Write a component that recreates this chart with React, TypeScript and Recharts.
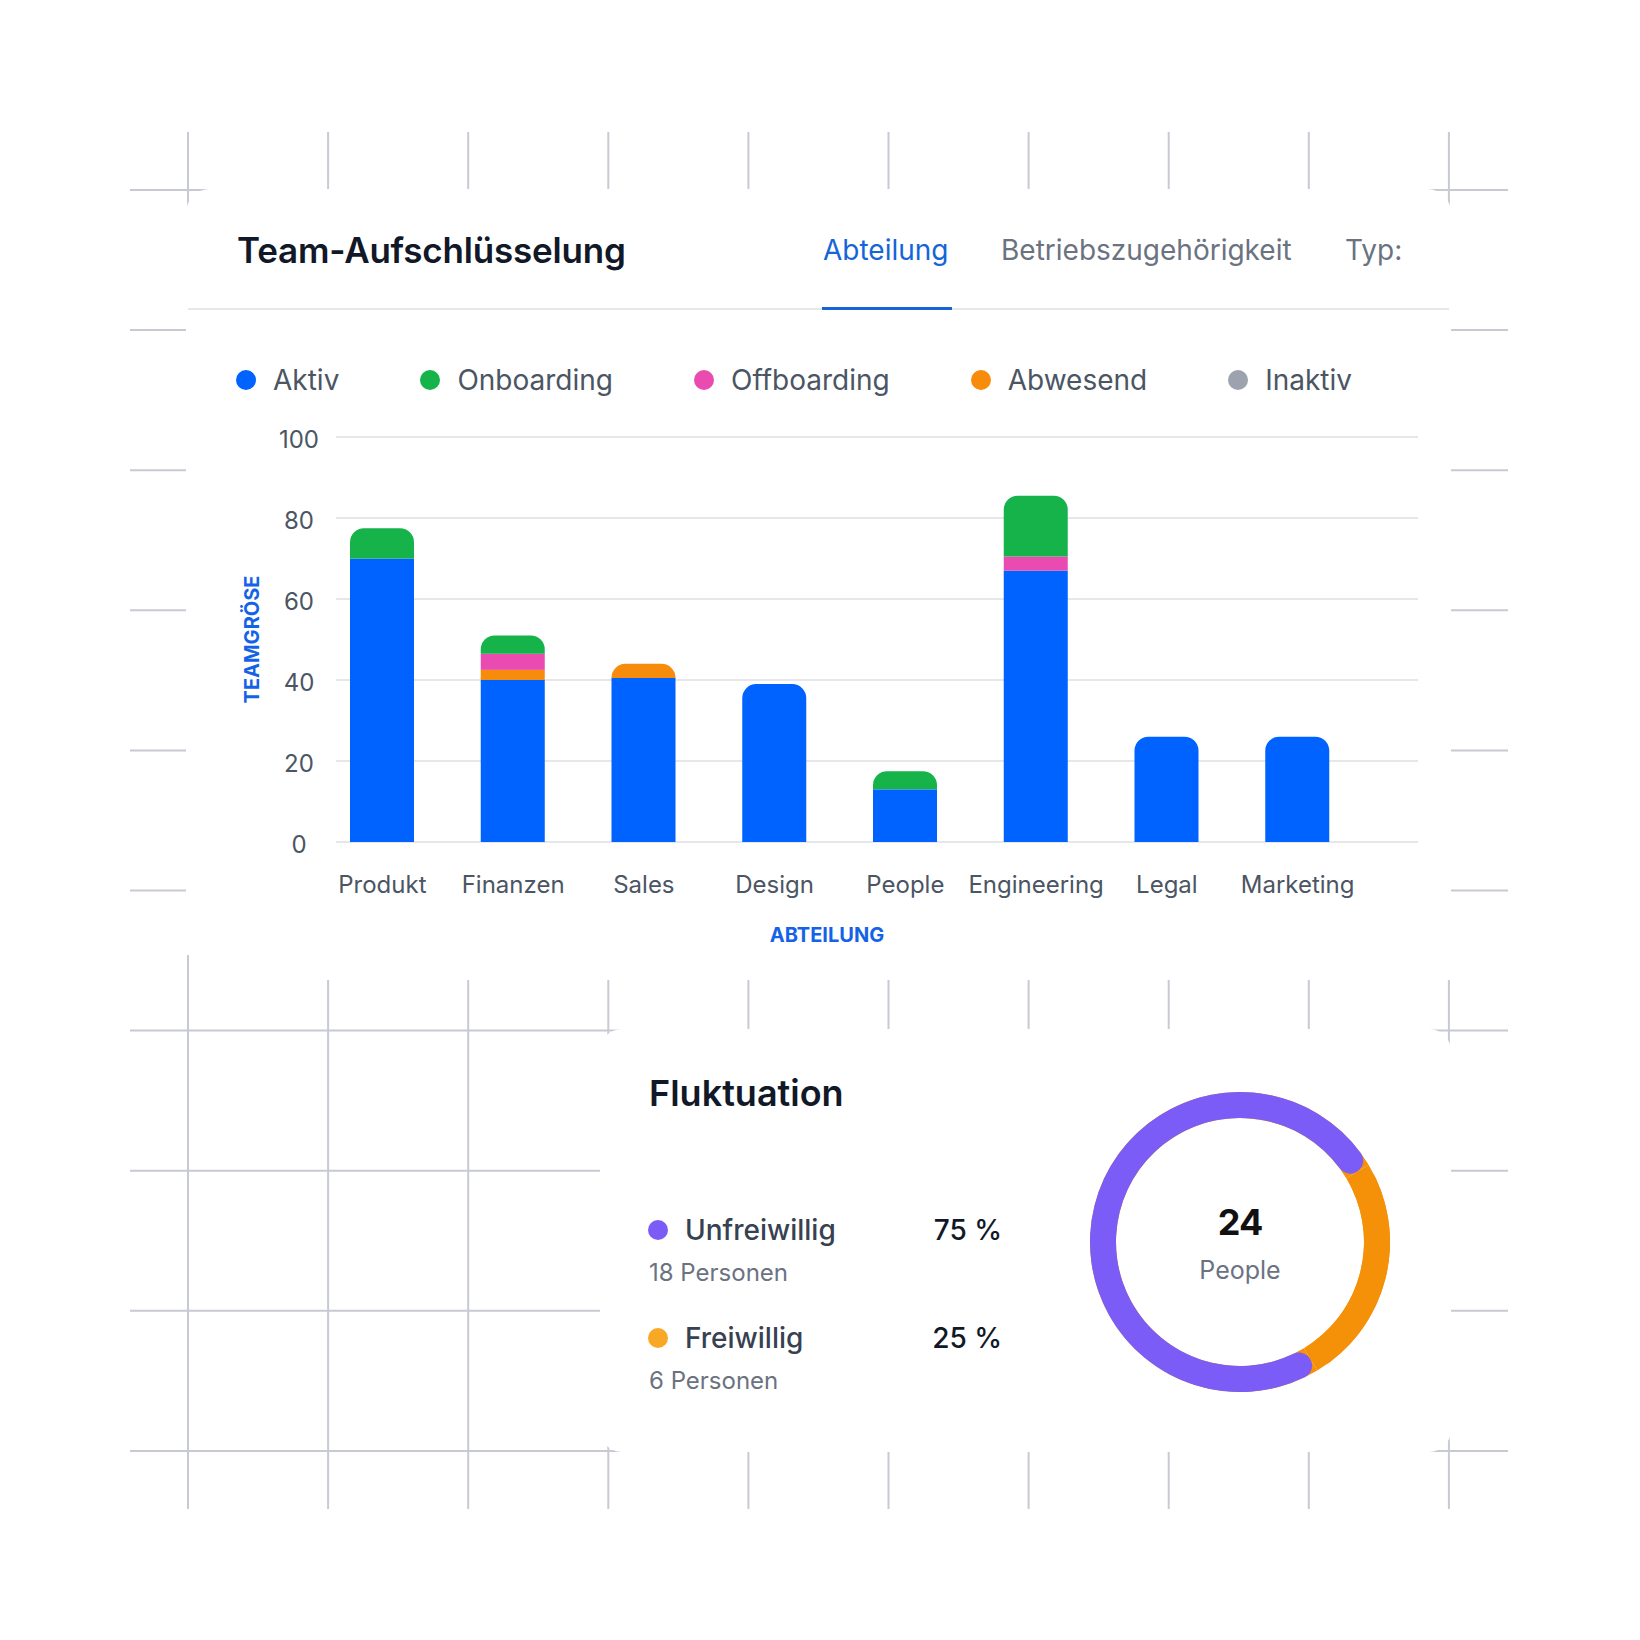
import { Bar, BarChart, CartesianGrid, Cell, Pie, PieChart, XAxis, YAxis } from 'recharts'

// Team-Aufschlüsselung
const departments = ['Produkt', 'Finanzen', 'Sales', 'Design', 'People', 'Engineering', 'Legal', 'Marketing']
const aktiv = [70, 40, 40.5, 39, 13, 67, 26, 26]
const abwesend = [0, 2.5, 3.5, 0, 0, 0, 0, 0]
const offboarding = [0, 4, 0, 0, 0, 3.5, 0, 0]
const onboarding = [7.5, 4.5, 0, 0, 4.5, 15, 0, 0]
const inaktiv = [0, 0, 0, 0, 0, 0, 0, 0]
const yTicks = [0, 20, 40, 60, 80, 100]
const tabs = ['Abteilung', 'Betriebszugehörigkeit', 'Typ:']

// Fluktuation
const turnoverLabels = ['Unfreiwillig', 'Freiwillig']
const turnoverPeople = [18, 6]

const statusNames: Record<string, string> = {
  aktiv: 'Aktiv',
  onboarding: 'Onboarding',
  offboarding: 'Offboarding',
  abwesend: 'Abwesend',
  inaktiv: 'Inaktiv',
}
const statusColors: Record<string, string> = {
  aktiv: '#0062ff',
  onboarding: '#16b34b',
  offboarding: '#ea4bb0',
  abwesend: '#f68b0c',
  inaktiv: '#9ca3af',
}
// bottom -> top in the stack
const stackOrder = ['aktiv', 'abwesend', 'offboarding', 'onboarding', 'inaktiv']
const legendOrder = ['aktiv', 'onboarding', 'offboarding', 'abwesend', 'inaktiv']

const ringColors = ['#7b5cf6', '#f59009']
const dotColors = ['#7b5cf6', '#f9a826']

const rows = departments.map((name, i) => ({
  name,
  aktiv: aktiv[i],
  abwesend: abwesend[i],
  offboarding: offboarding[i],
  onboarding: onboarding[i],
  inaktiv: inaktiv[i],
}))

const turnover = turnoverLabels.map((name, i) => ({ name, value: turnoverPeople[i] }))
const turnoverTotal = turnoverPeople.reduce((a, b) => a + b, 0)

const GRID = '#c8cad3'
const TEXT = '#4b5563'
const MUTED = '#6b7280'
const ACCENT = '#1463e6'

function topKey(row: any) {
  let top = ''
  for (const k of stackOrder) if (row[k] > 0) top = k
  return top
}

// only the top segment of each stack gets rounded corners
const roundedTop = (key: string) => (props: any) => {
  const { x, y, width, height, fill, payload } = props
  if (!height || height <= 0) return <g />
  if (topKey(payload) !== key) return <rect x={x} y={y} width={width} height={height} fill={fill} />
  const r = Math.min(14, height, width / 2)
  const d = `M${x},${y + height}V${y + r}A${r},${r} 0 0 1 ${x + r},${y}H${x + width - r}A${r},${r} 0 0 1 ${x + width},${y + r}V${y + height}Z`
  return <path d={d} fill={fill} />
}

function BackgroundGrid() {
  const xs = Array.from({ length: 10 }, (_, i) => 188 + 140.1 * i)
  const ys = Array.from({ length: 10 }, (_, i) => 190 + 140.1 * i)
  return (
    <svg width={1640} height={1640} style={{ position: 'absolute', left: 0, top: 0 }}>
      {xs.map((x) => <line key={'v' + x} x1={x} x2={x} y1={132} y2={1509} stroke={GRID} strokeWidth={2} />)}
      {ys.map((y) => <line key={'h' + y} x1={130} x2={1508} y1={y} y2={y} stroke={GRID} strokeWidth={2} />)}
      <rect x={186} y={189} width={1265} height={766} rx={24} fill="#fff" />
      <rect x={186} y={920} width={1265} height={35} fill="#fff" />
      <rect x={200} y={950} width={1262} height={30} fill="#fff" />
      <rect x={600} y={1029} width={851} height={423} rx={22} fill="#fff" />
    </svg>
  )
}

const abs = (left: number, top: number, extra: any = {}) => ({ position: 'absolute' as const, left, top, whiteSpace: 'nowrap' as const, ...extra })

function TeamCard() {
  const tabLefts = [823, 1001, 1345]
  return (
    <>
      <div style={abs(237, 233, { fontSize: 35, lineHeight: '35px', fontWeight: 600, color: '#111827', letterSpacing: -0.2 })}>
        Team-Aufschlüsselung
      </div>
      {tabs.map((t, i) => (
        <div key={t} style={abs(tabLefts[i], 236, { fontSize: 28, lineHeight: '28px', color: i === 0 ? '#1565d8' : MUTED })}>{t}</div>
      ))}
      <div style={abs(188, 308, { width: 1261, height: 2, background: '#e5e7eb' })} />
      <div style={abs(822, 307, { width: 130, height: 3, background: '#1565d8' })} />

      <div style={abs(236, 366, { display: 'flex', alignItems: 'center', gap: 81, height: 28 })}>
        {legendOrder.map((k) => (
          <div key={k} style={{ display: 'flex', alignItems: 'center' }}>
            <span style={{ width: 20, height: 20, borderRadius: 10, background: statusColors[k], marginRight: 17 }} />
            <span style={{ fontSize: 28, lineHeight: '28px', color: TEXT }}>{statusNames[k]}</span>
          </div>
        ))}
      </div>

      <div style={abs(188, 400)}>
        <BarChart width={1260} height={552} data={rows} margin={{ top: 37, right: 30, left: 48, bottom: 10 }}>
          <CartesianGrid vertical={false} stroke="#e5e7eb" strokeWidth={2} />
          <XAxis
            dataKey="name"
            axisLine={false}
            tickLine={false}
            tickSize={0}
            tickMargin={34}
            height={100}
            padding={{ left: -19, right: 55 }}
            tick={{ fill: TEXT, fontSize: 24 }}
            interval={0}
            label={{ value: 'ABTEILUNG', position: 'insideBottom', offset: 0, dx: -50, fill: ACCENT, fontSize: 20, fontWeight: 700 }}
          />
          <YAxis
            domain={[0, 100]}
            ticks={yTicks}
            axisLine={false}
            tickLine={false}
            tickSize={0}
            tickMargin={37}
            width={100}
            tick={{ fill: TEXT, fontSize: 24, dy: 2, textAnchor: 'middle' }}
            label={{ value: 'TEAMGRÖSE', angle: -90, position: 'insideLeft', offset: 16, fill: ACCENT, fontSize: 20, fontWeight: 700, style: { textAnchor: 'middle' } }}
          />
          {stackOrder.map((k) => (
            <Bar
              key={k}
              dataKey={k}
              name={statusNames[k]}
              stackId="team"
              fill={statusColors[k]}
              barSize={64}
              isAnimationActive={false}
              shape={roundedTop(k)}
            />
          ))}
        </BarChart>
      </div>
    </>
  )
}

function TurnoverCard() {
  return (
    <>
      <div style={abs(649, 1075, { fontSize: 36, lineHeight: '36px', fontWeight: 600, color: '#111827' })}>Fluktuation</div>
      {turnover.map((t, i) => {
        const top = 1216 + i * 108
        return (
          <div key={t.name}>
            <span style={abs(648, top + 4, { width: 20, height: 20, borderRadius: 10, background: dotColors[i] })} />
            <div style={abs(685, top, { fontSize: 28, lineHeight: '28px', fontWeight: 500, color: '#374151' })}>{t.name}</div>
            <div style={abs(884, top, { width: 118, textAlign: 'right', fontSize: 28, lineHeight: '28px', fontWeight: 500, color: '#111827' })}>
              {Math.round((t.value / turnoverTotal) * 100)} %
            </div>
            <div style={abs(649, top + 45, { fontSize: 24, lineHeight: '24px', color: MUTED })}>{t.value} Personen</div>
          </div>
        )
      })}

      <div style={abs(1080, 1082)}>
        <PieChart width={320} height={320} margin={{ top: 0, right: 0, bottom: 0, left: 0 }}>
          <Pie
            data={turnover}
            dataKey="value"
            cx={160}
            cy={160}
            innerRadius={124}
            outerRadius={150}
            startAngle={301}
            endAngle={-59}
            fill={ringColors[1]}
            stroke="none"
            isAnimationActive={false}
          />
          <Pie
            data={turnover}
            dataKey="value"
            cx={160}
            cy={160}
            innerRadius={124}
            outerRadius={150}
            startAngle={301}
            endAngle={-59}
            cornerRadius={13}
            stroke="none"
            isAnimationActive={false}
          >
            {turnover.map((t, i) => <Cell key={t.name} fill={ringColors[i]} />)}
          </Pie>
        </PieChart>
      </div>
      <div style={abs(1140, 1204, { width: 200, textAlign: 'center', fontSize: 36, lineHeight: '36px', fontWeight: 700, color: '#111', letterSpacing: -1 })}>
        {turnoverTotal}
      </div>
      <div style={abs(1140, 1258, { width: 200, textAlign: 'center', fontSize: 25, lineHeight: '25px', color: MUTED })}>People</div>
    </>
  )
}

export default function App() {
  return (
    <div style={{ position: 'absolute', left: 0, top: 0, width: 1640, height: 1640, background: '#fff', fontFamily: 'Inter, sans-serif', overflow: 'hidden' }}>
      <BackgroundGrid />
      <TeamCard />
      <TurnoverCard />
    </div>
  )
}
